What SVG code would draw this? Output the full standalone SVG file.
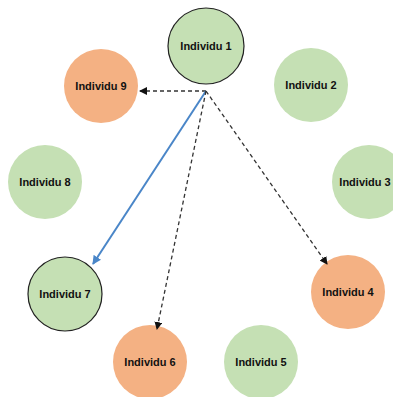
<svg xmlns="http://www.w3.org/2000/svg" width="393" height="397" viewBox="0 0 393 397">
<style>
.g{fill:#c5e0b4}
.o{fill:#f4b183}
.b{stroke:#222;stroke-width:1.2}
text{font-family:"Liberation Sans",Arial,sans-serif;font-weight:bold;font-size:11px;fill:#111;text-anchor:middle;dominant-baseline:central}
.d{stroke:#333;stroke-width:1.3;stroke-dasharray:4 3;fill:none}
.s{stroke:#4a86c8;stroke-width:2;fill:none}
</style>
<defs>
<marker id="ak" markerWidth="8" markerHeight="8" refX="7" refY="4" orient="auto" markerUnits="userSpaceOnUse"><path d="M0,0 L8,4 L0,8 z" fill="#111"/></marker>
<marker id="ab" markerWidth="9" markerHeight="9" refX="8" refY="4.5" orient="auto" markerUnits="userSpaceOnUse"><path d="M0,0 L9,4.5 L0,9 z" fill="#4a86c8"/></marker>
</defs>
<rect width="393" height="397" fill="#fff"/>
<g id="n1"><circle cx="206" cy="46" r="38" class="g b"/><text x="206" y="46">Individu 1</text></g>
<g id="n2"><circle cx="311" cy="85" r="37" class="g"/><text x="311" y="85">Individu 2</text></g>
<g id="n3"><circle cx="369" cy="182" r="37" class="g"/><text x="365" y="182">Individu 3</text></g>
<g id="n4"><circle cx="348" cy="292" r="37" class="o"/><text x="348" y="292">Individu 4</text></g>
<g id="n5"><circle cx="261" cy="362" r="37" class="g"/><text x="261" y="362">Individu 5</text></g>
<g id="n6"><circle cx="150" cy="362" r="37" class="o"/><text x="150" y="362">Individu 6</text></g>
<g id="n7"><circle cx="65" cy="294" r="37" class="g b"/><text x="65" y="294">Individu 7</text></g>
<g id="n8"><circle cx="45" cy="182" r="37" class="g"/><text x="45" y="182">Individu 8</text></g>
<g id="n9"><circle cx="101" cy="86" r="37" class="o"/><text x="101" y="86">Individu 9</text></g>
<g id="connectors">
<line x1="206" y1="91" x2="140" y2="91" class="d" marker-end="url(#ak)"/>
<line x1="206" y1="91" x2="93" y2="264" class="s" marker-end="url(#ab)"/>
<line x1="206" y1="91" x2="157" y2="329" class="d" marker-end="url(#ak)"/>
<line x1="206" y1="91" x2="327" y2="264" class="d" marker-end="url(#ak)"/>
</g>
</svg>
